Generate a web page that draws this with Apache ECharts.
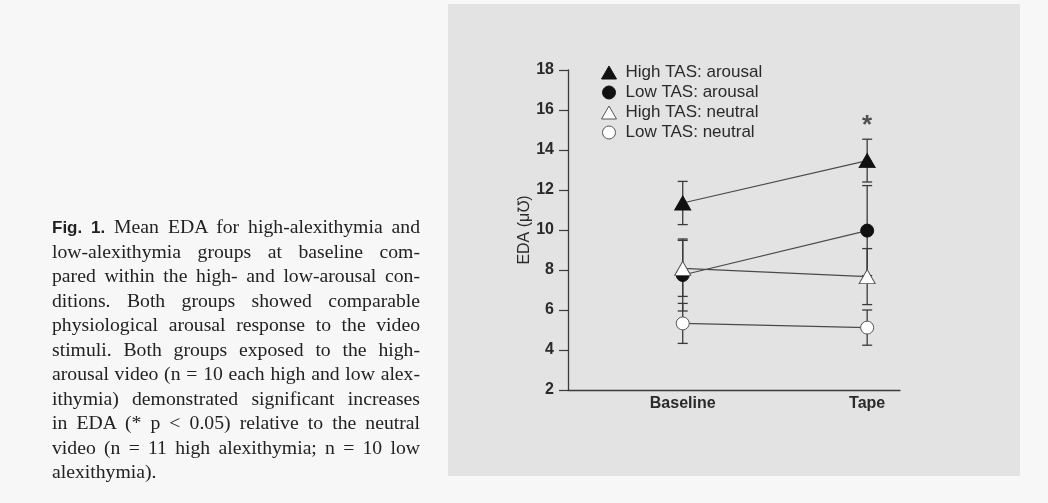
<!DOCTYPE html>
<html>
<head>
<meta charset="utf-8">
<script src="https://cdn.jsdelivr.net/npm/echarts@6/dist/echarts.min.js"></script>
<style>
html,body{margin:0;padding:0;background:#f7f7f7;width:1048px;height:503px;overflow:hidden;}
#chart{position:absolute;left:0;top:0;width:1048px;height:503px;}
#caption{position:absolute;left:52px;top:214px;width:368px;font-family:'Liberation Serif','Times New Roman',serif;font-size:19.7px;line-height:24.5px;color:#222;}
#caption div{text-align:justify;text-align-last:justify;height:24.5px;white-space:nowrap;}
#caption div.last{text-align-last:left;}
#caption b{font-family:'Liberation Sans',Arial,sans-serif;font-size:17px;}
</style>
</head>
<body>
<div id="chart"></div>
<div id="caption"></div>
<script>
// ---- data ----
const categories = ['Baseline', 'Tape'];
const seriesNames = ['High TAS: arousal', 'Low TAS: arousal', 'High TAS: neutral', 'Low TAS: neutral'];
const highArousal = [11.35, 13.47];
const highArousalErr = [1.08, 1.07];
const lowArousal = [7.75, 9.97];
const lowArousalErr = [1.8, 2.25];
const highNeutral = [8.08, 7.67];
const highNeutralErr = [1.4, 1.4];
const lowNeutral = [5.33, 5.12];
const lowNeutralErr = [1.0, 0.88];
const yTicks = [2, 4, 6, 8, 10, 12, 14, 16, 18];
const significance = [{ category: 1, value: 15.2, text: '*' }];
const captionBold = 'Fig. 1.';
const captionLines = [
  ' Mean EDA for high-alexithymia and',
  'low-alexithymia groups at baseline com-',
  'pared within the high- and low-arousal con-',
  'ditions. Both groups showed comparable',
  'physiological arousal response to the video',
  'stimuli. Both groups exposed to the high-',
  'arousal video (n = 10 each high and low alex-',
  'ithymia) demonstrated significant increases',
  'in EDA (* p < 0.05) relative to the neutral',
  'video (n = 11 high alexithymia; n = 10 low',
  'alexithymia).'
];

// ---- caption ----
const cap = document.getElementById('caption');
captionLines.forEach((t, i) => {
  const d = document.createElement('div');
  if (i === captionLines.length - 1) d.className = 'last';
  if (i === 0) {
    const b = document.createElement('b');
    b.textContent = captionBold;
    d.appendChild(b);
  }
  d.appendChild(document.createTextNode(t));
  cap.appendChild(d);
});

// ---- chart ----
const ink = '#2a2a2a';
const font = "'Liberation Sans', Arial, Helvetica, sans-serif";
const toPts = arr => arr.map((v, i) => [i, v]);

function errorSeries(vals, errs) {
  return {
    type: 'custom',
    silent: true,
    z: 1,
    data: vals.map((v, i) => [i, v - errs[i], v + errs[i]]),
    encode: { x: 0, y: [1, 2] },
    renderItem: (params, api) => {
      const x = api.value(0);
      const lo = api.coord([x, api.value(1)]);
      const hi = api.coord([x, api.value(2)]);
      const w = 5;
      const st = { stroke: '#3a3a3a', lineWidth: 1.3 };
      return {
        type: 'group',
        children: [
          { type: 'line', shape: { x1: lo[0], y1: lo[1], x2: hi[0], y2: hi[1] }, style: st },
          { type: 'line', shape: { x1: lo[0] - w, y1: lo[1], x2: lo[0] + w, y2: lo[1] }, style: st },
          { type: 'line', shape: { x1: hi[0] - w, y1: hi[1], x2: hi[0] + w, y2: hi[1] }, style: st }
        ]
      };
    }
  };
}

const styles = [
  { symbol: 'triangle', size: [16, 14], item: { color: '#111', borderColor: '#111', borderWidth: 1 } },
  { symbol: 'circle', size: 13, item: { color: '#111', borderColor: '#111', borderWidth: 1 } },
  { symbol: 'triangle', size: [16, 14], item: { color: '#fff', borderColor: '#555', borderWidth: 1 } },
  { symbol: 'circle', size: 13, item: { color: '#fff', borderColor: '#555', borderWidth: 1 } }
];
const values = [highArousal, lowArousal, highNeutral, lowNeutral];
const errors = [highArousalErr, lowArousalErr, highNeutralErr, lowNeutralErr];

const series = [];
values.forEach((v, k) => series.push(errorSeries(v, errors[k])));
values.forEach((v, k) => series.push({
  type: 'line',
  name: seriesNames[k],
  data: toPts(v),
  z: 2 + k,
  symbol: styles[k].symbol,
  symbolSize: styles[k].size,
  showAllSymbol: true,
  itemStyle: styles[k].item,
  lineStyle: { color: '#4a4a4a', width: 1.2 },
  emphasis: { disabled: true },
  animation: false
}));
series.push({
  type: 'scatter',
  data: significance.map(s => [s.category, s.value]),
  symbolSize: 2,
  itemStyle: { color: 'rgba(0,0,0,0)' },
  label: { show: true, position: 'inside', formatter: () => significance[0].text, fontSize: 26, fontWeight: 'bold', color: ink, fontFamily: font },
  silent: true,
  z: 10
});

const chart = echarts.init(document.getElementById('chart'), null, { renderer: 'canvas' });
chart.setOption({
  animation: false,
  backgroundColor: 'transparent',
  graphic: [{ type: 'rect', left: 448, top: 4, shape: { width: 572, height: 472 }, style: { fill: '#e3e3e3' }, z: -10 }],
  grid: { left: 568, right: 148, top: 70, bottom: 113, containLabel: false },
  legend: {
    orient: 'vertical',
    left: 596,
    top: 59,
    itemWidth: 15,
    itemHeight: 13,
    itemGap: 3,
    selectedMode: false,
    textStyle: { fontSize: 17, lineHeight: 17, color: ink, fontFamily: font, padding: [0, 0, 0, 4] },
    data: seriesNames.map((n, k) => ({ name: n, icon: styles[k].symbol, itemStyle: styles[k].item }))
  },
  xAxis: {
    type: 'value',
    min: -0.622,
    max: 1.178,
    axisLine: { show: true, onZero: false, lineStyle: { color: '#3a3a3a', width: 1.3 } },
    axisTick: { show: false },
    splitLine: { show: false },
    axisLabel: {
      customValues: [0, 1],
      formatter: v => categories[Math.round(v)],
      fontSize: 16, fontWeight: 'bold', color: ink, fontFamily: font, margin: 6
    }
  },
  yAxis: {
    type: 'value',
    min: 2,
    max: 18,
    interval: 2,
    name: 'EDA (μ℧)',
    nameLocation: 'middle',
    nameGap: 33,
    nameTextStyle: { fontSize: 16, color: ink, fontFamily: font },
    axisLine: { show: true, onZero: false, lineStyle: { color: '#3a3a3a', width: 1.3 } },
    axisTick: { show: true, length: 9, lineStyle: { color: '#3a3a3a', width: 1.2 } },
    splitLine: { show: false },
    axisLabel: {
      customValues: yTicks,
      fontSize: 16, fontWeight: 'bold', color: ink, fontFamily: font, margin: 14
    }
  },
  series: series
});
</script>
</body>
</html>
